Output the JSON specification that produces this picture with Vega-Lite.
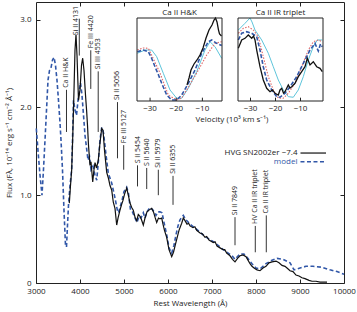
{
  "$schema": "https://vega.github.io/schema/vega-lite/v6.json",
  "width": 308,
  "height": 281,
  "autosize": {"type": "none"},
  "padding": {"left": 36, "top": 2, "right": 13, "bottom": 29},
  "config": {
    "font": "Open Sans",
    "view": {"stroke": "#222", "strokeWidth": 1},
    "axis": {
      "grid": false, "domain": false, "labelFlush": false,
      "labelFont": "Open Sans", "labelFontSize": 8, "labelColor": "#222",
      "tickColor": "#222", "tickWidth": 1,
      "titleFont": "Open Sans", "titleFontSize": 8, "titleFontWeight": "normal", "titleColor": "#222"
    },
    "text": {"font": "Open Sans", "fontSize": 8, "color": "#222"}
  },
  "datasets": {
    "model": [
      {"wl": 3007, "flux": 1.76}, {"wl": 3045, "flux": 1.51}, {"wl": 3091, "flux": 1.23}, {"wl": 3136, "flux": 1.00},
      {"wl": 3170, "flux": 1.29}, {"wl": 3205, "flux": 1.63}, {"wl": 3239, "flux": 1.97}, {"wl": 3273, "flux": 2.31},
      {"wl": 3307, "flux": 2.42}, {"wl": 3341, "flux": 2.45}, {"wl": 3375, "flux": 2.54}, {"wl": 3409, "flux": 2.57},
      {"wl": 3443, "flux": 2.48}, {"wl": 3477, "flux": 2.31}, {"wl": 3511, "flux": 2.08}, {"wl": 3545, "flux": 1.83},
      {"wl": 3568, "flux": 1.63}, {"wl": 3602, "flux": 1.29}, {"wl": 3636, "flux": 0.83}, {"wl": 3670, "flux": 0.43},
      {"wl": 3693, "flux": 0.41}, {"wl": 3716, "flux": 0.66}, {"wl": 3739, "flux": 0.89}, {"wl": 3773, "flux": 1.11},
      {"wl": 3811, "flux": 1.29}, {"wl": 3830, "flux": 1.63}, {"wl": 3852, "flux": 2.08}, {"wl": 3886, "flux": 1.97},
      {"wl": 3920, "flux": 1.91}, {"wl": 3955, "flux": 2.08}, {"wl": 4011, "flux": 2.28}, {"wl": 4045, "flux": 2.14},
      {"wl": 4080, "flux": 1.91}, {"wl": 4114, "flux": 1.68}, {"wl": 4148, "flux": 1.54}, {"wl": 4182, "flux": 1.40},
      {"wl": 4216, "flux": 1.44}, {"wl": 4250, "flux": 1.29}, {"wl": 4295, "flux": 1.33}, {"wl": 4341, "flux": 1.23},
      {"wl": 4380, "flux": 1.17}, {"wl": 4420, "flux": 1.40}, {"wl": 4455, "flux": 1.63}, {"wl": 4493, "flux": 1.77},
      {"wl": 4534, "flux": 1.71}, {"wl": 4591, "flux": 1.46}, {"wl": 4643, "flux": 1.25}, {"wl": 4720, "flux": 1.14},
      {"wl": 4795, "flux": 0.97}, {"wl": 4848, "flux": 0.83}, {"wl": 4875, "flux": 0.80}, {"wl": 4909, "flux": 0.86},
      {"wl": 4955, "flux": 0.94}, {"wl": 5000, "flux": 1.04}, {"wl": 5061, "flux": 1.09}, {"wl": 5102, "flux": 1.02},
      {"wl": 5148, "flux": 0.83}, {"wl": 5193, "flux": 0.81}, {"wl": 5250, "flux": 0.74}, {"wl": 5295, "flux": 0.69},
      {"wl": 5341, "flux": 0.76}, {"wl": 5386, "flux": 0.74}, {"wl": 5439, "flux": 0.80}, {"wl": 5477, "flux": 0.74},
      {"wl": 5523, "flux": 0.81}, {"wl": 5591, "flux": 0.86}, {"wl": 5659, "flux": 0.83}, {"wl": 5727, "flux": 0.77},
      {"wl": 5773, "flux": 0.81}, {"wl": 5818, "flux": 0.81}, {"wl": 5864, "flux": 0.80}, {"wl": 5909, "flux": 0.69},
      {"wl": 5970, "flux": 0.55}, {"wl": 6023, "flux": 0.40}, {"wl": 6084, "flux": 0.34}, {"wl": 6136, "flux": 0.43},
      {"wl": 6182, "flux": 0.55}, {"wl": 6227, "flux": 0.65}, {"wl": 6273, "flux": 0.72}, {"wl": 6348, "flux": 0.77},
      {"wl": 6409, "flux": 0.72}, {"wl": 6500, "flux": 0.67}, {"wl": 6652, "flux": 0.61}, {"wl": 6841, "flux": 0.53},
      {"wl": 7030, "flux": 0.47}, {"wl": 7182, "flux": 0.41}, {"wl": 7334, "flux": 0.35}, {"wl": 7455, "flux": 0.31},
      {"wl": 7523, "flux": 0.27}, {"wl": 7636, "flux": 0.33}, {"wl": 7727, "flux": 0.33}, {"wl": 7818, "flux": 0.28},
      {"wl": 7909, "flux": 0.22}, {"wl": 8000, "flux": 0.17}, {"wl": 8091, "flux": 0.16}, {"wl": 8227, "flux": 0.22},
      {"wl": 8364, "flux": 0.26}, {"wl": 8477, "flux": 0.28}, {"wl": 8614, "flux": 0.27}, {"wl": 8773, "flux": 0.23},
      {"wl": 8864, "flux": 0.15}, {"wl": 9000, "flux": 0.17}, {"wl": 9136, "flux": 0.19}, {"wl": 9295, "flux": 0.19},
      {"wl": 9500, "flux": 0.18}, {"wl": 9682, "flux": 0.15}, {"wl": 9841, "flux": 0.13}, {"wl": 10000, "flux": 0.10}
    ],
    "observed": [
      {"wl": 3757, "flux": 0.91}, {"wl": 3784, "flux": 1.11}, {"wl": 3811, "flux": 1.29}, {"wl": 3836, "flux": 1.68},
      {"wl": 3864, "flux": 2.20}, {"wl": 3886, "flux": 2.65}, {"wl": 3909, "flux": 2.83}, {"wl": 3932, "flux": 2.59},
      {"wl": 3966, "flux": 2.08}, {"wl": 4000, "flux": 2.20}, {"wl": 4034, "flux": 2.48}, {"wl": 4061, "flux": 2.56},
      {"wl": 4091, "flux": 2.42}, {"wl": 4125, "flux": 2.14}, {"wl": 4152, "flux": 1.95}, {"wl": 4170, "flux": 1.80},
      {"wl": 4193, "flux": 1.57}, {"wl": 4227, "flux": 1.34}, {"wl": 4250, "flux": 1.38}, {"wl": 4289, "flux": 1.15},
      {"wl": 4318, "flux": 1.29}, {"wl": 4341, "flux": 1.37}, {"wl": 4375, "flux": 1.31}, {"wl": 4416, "flux": 1.40},
      {"wl": 4455, "flux": 1.60}, {"wl": 4493, "flux": 1.76}, {"wl": 4523, "flux": 1.74}, {"wl": 4557, "flux": 1.51},
      {"wl": 4607, "flux": 1.26}, {"wl": 4648, "flux": 1.19}, {"wl": 4682, "flux": 1.11}, {"wl": 4720, "flux": 1.06},
      {"wl": 4757, "flux": 0.92}, {"wl": 4795, "flux": 0.85}, {"wl": 4834, "flux": 0.66}, {"wl": 4864, "flux": 0.74},
      {"wl": 4909, "flux": 0.83}, {"wl": 4943, "flux": 0.89}, {"wl": 4977, "flux": 0.94}, {"wl": 5011, "flux": 1.01},
      {"wl": 5061, "flux": 1.08}, {"wl": 5098, "flux": 1.00}, {"wl": 5136, "flux": 0.91}, {"wl": 5175, "flux": 0.86},
      {"wl": 5211, "flux": 0.83}, {"wl": 5250, "flux": 0.75}, {"wl": 5289, "flux": 0.71}, {"wl": 5325, "flux": 0.78},
      {"wl": 5364, "flux": 0.76}, {"wl": 5398, "flux": 0.72}, {"wl": 5439, "flux": 0.66}, {"wl": 5477, "flux": 0.74},
      {"wl": 5523, "flux": 0.81}, {"wl": 5568, "flux": 0.83}, {"wl": 5630, "flux": 0.85}, {"wl": 5670, "flux": 0.81},
      {"wl": 5705, "flux": 0.75}, {"wl": 5743, "flux": 0.69}, {"wl": 5784, "flux": 0.74}, {"wl": 5818, "flux": 0.73},
      {"wl": 5857, "flux": 0.74}, {"wl": 5886, "flux": 0.67}, {"wl": 5920, "flux": 0.60}, {"wl": 5970, "flux": 0.52},
      {"wl": 6023, "flux": 0.38}, {"wl": 6084, "flux": 0.30}, {"wl": 6125, "flux": 0.35}, {"wl": 6159, "flux": 0.42},
      {"wl": 6205, "flux": 0.51}, {"wl": 6250, "flux": 0.60}, {"wl": 6311, "flux": 0.68}, {"wl": 6348, "flux": 0.74},
      {"wl": 6386, "flux": 0.71}, {"wl": 6432, "flux": 0.67}, {"wl": 6470, "flux": 0.68}, {"wl": 6500, "flux": 0.65},
      {"wl": 6568, "flux": 0.63}, {"wl": 6610, "flux": 0.64}, {"wl": 6652, "flux": 0.60}, {"wl": 6727, "flux": 0.57},
      {"wl": 6780, "flux": 0.56}, {"wl": 6841, "flux": 0.52}, {"wl": 6880, "flux": 0.53}, {"wl": 6932, "flux": 0.49},
      {"wl": 7030, "flux": 0.46}, {"wl": 7070, "flux": 0.47}, {"wl": 7114, "flux": 0.42}, {"wl": 7182, "flux": 0.40},
      {"wl": 7250, "flux": 0.38}, {"wl": 7290, "flux": 0.38}, {"wl": 7334, "flux": 0.34}, {"wl": 7409, "flux": 0.31},
      {"wl": 7466, "flux": 0.27}, {"wl": 7523, "flux": 0.24}, {"wl": 7580, "flux": 0.28}, {"wl": 7636, "flux": 0.31},
      {"wl": 7705, "flux": 0.32}, {"wl": 7773, "flux": 0.30}, {"wl": 7818, "flux": 0.26}, {"wl": 7864, "flux": 0.22},
      {"wl": 7909, "flux": 0.19}, {"wl": 7955, "flux": 0.17}, {"wl": 8023, "flux": 0.15}, {"wl": 8091, "flux": 0.14},
      {"wl": 8159, "flux": 0.17}, {"wl": 8227, "flux": 0.19}, {"wl": 8295, "flux": 0.23}, {"wl": 8364, "flux": 0.24},
      {"wl": 8455, "flux": 0.25}, {"wl": 8523, "flux": 0.23}, {"wl": 8591, "flux": 0.20}, {"wl": 8659, "flux": 0.19},
      {"wl": 8705, "flux": 0.17}, {"wl": 8773, "flux": 0.14}, {"wl": 8841, "flux": 0.13}, {"wl": 8909, "flux": 0.09},
      {"wl": 8977, "flux": 0.08}, {"wl": 9045, "flux": 0.06}, {"wl": 9114, "flux": 0.05}, {"wl": 9205, "flux": 0.03},
      {"wl": 9273, "flux": 0.02}, {"wl": 9364, "flux": 0.02}, {"wl": 9455, "flux": 0.01}, {"wl": 9545, "flux": 0.01},
      {"wl": 9614, "flux": 0.01}
    ],
    "lines": [
      {"label": "Ca II H&K", "wl": 3693, "lo": 1.72, "hi": 2.20, "tw": 3693, "ty": 2.20},
      {"label": "Si II 4131", "wl": 3984, "lo": 2.59, "hi": 3.01, "tw": 3909, "ty": 2.80},
      {"label": "Fe III 4420", "wl": 4245, "lo": 2.21, "hi": 2.65, "tw": 4245, "ty": 2.65},
      {"label": "Si III 4553", "wl": 4414, "lo": 1.72, "hi": 2.41, "tw": 4414, "ty": 2.41},
      {"label": "Si II 5056", "wl": 4852, "lo": 1.42, "hi": 2.06, "tw": 4852, "ty": 2.06},
      {"label": "Fe III 5127", "wl": 4993, "lo": 1.29, "hi": 1.57, "tw": 4993, "ty": 1.57},
      {"label": "S II 5454", "wl": 5307, "lo": 1.10, "hi": 1.34, "tw": 5307, "ty": 1.34},
      {"label": "S II 5640", "wl": 5516, "lo": 1.07, "hi": 1.31, "tw": 5516, "ty": 1.31},
      {"label": "Si II 5979", "wl": 5780, "lo": 1.00, "hi": 1.29, "tw": 5780, "ty": 1.29},
      {"label": "Si II 6355", "wl": 6114, "lo": 0.89, "hi": 1.22, "tw": 6114, "ty": 1.22},
      {"label": "Si II 7849", "wl": 7523, "lo": 0.43, "hi": 0.75, "tw": 7523, "ty": 0.75},
      {"label": "HV Ca II IR triplet", "wl": 7984, "lo": 0.35, "hi": 0.65, "tw": 7984, "ty": 0.65},
      {"label": "Ca II IR triplet", "wl": 8234, "lo": 0.35, "hi": 0.77, "tw": 8234, "ty": 0.77}
    ],
    "hk": [
      {"s": "obs", "v": -15.88, "f": 0.193}, {"s": "obs", "v": -15.11, "f": 0.277}, {"s": "obs", "v": -14.35, "f": 0.373},
      {"s": "obs", "v": -13.2, "f": 0.446}, {"s": "obs", "v": -12.06, "f": 0.494}, {"s": "obs", "v": -10.91, "f": 0.554},
      {"s": "obs", "v": -9.76, "f": 0.639}, {"s": "obs", "v": -8.61, "f": 0.759}, {"s": "obs", "v": -7.47, "f": 0.855},
      {"s": "obs", "v": -6.32, "f": 0.916}, {"s": "obs", "v": -5.55, "f": 0.976}, {"s": "obs", "v": -4.98, "f": 1.0},
      {"s": "obs", "v": -4.41, "f": 0.952}, {"s": "obs", "v": -3.83, "f": 0.855}, {"s": "obs", "v": -3.45, "f": 0.807},
      {"s": "obs", "v": -2.69, "f": 0.783},
      {"s": "model", "v": -34.89, "f": 0.594}, {"s": "model", "v": -32.59, "f": 0.614}, {"s": "model", "v": -30.68, "f": 0.594},
      {"s": "model", "v": -29.45, "f": 0.518}, {"s": "model", "v": -28.12, "f": 0.413}, {"s": "model", "v": -26.78, "f": 0.313},
      {"s": "model", "v": -25.55, "f": 0.213}, {"s": "model", "v": -23.64, "f": 0.072}, {"s": "model", "v": -21.73, "f": 0.012},
      {"s": "model", "v": -19.82, "f": 0.012}, {"s": "model", "v": -17.91, "f": 0.072}, {"s": "model", "v": -15.38, "f": 0.213},
      {"s": "model", "v": -12.82, "f": 0.373}, {"s": "model", "v": -10.26, "f": 0.575}, {"s": "model", "v": -7.73, "f": 0.714},
      {"s": "model", "v": -6.43, "f": 0.735}, {"s": "model", "v": -4.52, "f": 0.695}, {"s": "model", "v": -2.61, "f": 0.669},
      {"s": "red", "v": -34.89, "f": 0.614}, {"s": "red", "v": -32.71, "f": 0.639}, {"s": "red", "v": -30.68, "f": 0.635},
      {"s": "red", "v": -28.88, "f": 0.518}, {"s": "red", "v": -26.2, "f": 0.337}, {"s": "red", "v": -23.03, "f": 0.072},
      {"s": "red", "v": -19.82, "f": 0.012}, {"s": "red", "v": -17.91, "f": 0.036}, {"s": "red", "v": -15.99, "f": 0.133},
      {"s": "red", "v": -12.17, "f": 0.337}, {"s": "red", "v": -8.35, "f": 0.554}, {"s": "red", "v": -5.17, "f": 0.695},
      {"s": "red", "v": -2.61, "f": 0.714},
      {"s": "cyan", "v": -34.89, "f": 0.575}, {"s": "cyan", "v": -31.94, "f": 0.614}, {"s": "cyan", "v": -29.38, "f": 0.614},
      {"s": "cyan", "v": -27.47, "f": 0.534}, {"s": "cyan", "v": -24.94, "f": 0.334}, {"s": "cyan", "v": -22.38, "f": 0.133},
      {"s": "cyan", "v": -19.82, "f": 0.033}, {"s": "cyan", "v": -17.91, "f": 0.033}, {"s": "cyan", "v": -15.38, "f": 0.153},
      {"s": "cyan", "v": -12.17, "f": 0.353}, {"s": "cyan", "v": -9.0, "f": 0.614}, {"s": "cyan", "v": -7.08, "f": 0.714},
      {"s": "cyan", "v": -5.17, "f": 0.654}, {"s": "cyan", "v": -2.61, "f": 0.514}
    ],
    "ir": [
      {"s": "obs", "v": -34.88, "f": 0.635}, {"s": "obs", "v": -33.52, "f": 0.735}, {"s": "obs", "v": -32.2, "f": 0.755},
      {"s": "obs", "v": -30.88, "f": 0.795}, {"s": "obs", "v": -29.52, "f": 0.755}, {"s": "obs", "v": -28.8, "f": 0.783},
      {"s": "obs", "v": -28.2, "f": 0.735}, {"s": "obs", "v": -27.52, "f": 0.614}, {"s": "obs", "v": -26.2, "f": 0.413},
      {"s": "obs", "v": -24.88, "f": 0.253}, {"s": "obs", "v": -23.52, "f": 0.153}, {"s": "obs", "v": -22.2, "f": 0.112},
      {"s": "obs", "v": -21.2, "f": 0.133}, {"s": "obs", "v": -20.2, "f": 0.093}, {"s": "obs", "v": -18.88, "f": 0.072},
      {"s": "obs", "v": -18.2, "f": 0.133}, {"s": "obs", "v": -17.52, "f": 0.153}, {"s": "obs", "v": -16.8, "f": 0.096},
      {"s": "obs", "v": -16.2, "f": 0.112}, {"s": "obs", "v": -14.88, "f": 0.193}, {"s": "obs", "v": -14.2, "f": 0.157},
      {"s": "obs", "v": -13.52, "f": 0.172}, {"s": "obs", "v": -12.2, "f": 0.213}, {"s": "obs", "v": -10.88, "f": 0.293},
      {"s": "obs", "v": -9.52, "f": 0.353}, {"s": "obs", "v": -8.2, "f": 0.413}, {"s": "obs", "v": -7.28, "f": 0.514},
      {"s": "obs", "v": -6.2, "f": 0.434}, {"s": "obs", "v": -4.88, "f": 0.473}, {"s": "obs", "v": -3.52, "f": 0.413},
      {"s": "obs", "v": -2.2, "f": 0.394}, {"s": "obs", "v": -1.28, "f": 0.353},
      {"s": "model", "v": -34.88, "f": 0.735}, {"s": "model", "v": -33.52, "f": 0.816}, {"s": "model", "v": -31.52, "f": 0.835},
      {"s": "model", "v": -29.52, "f": 0.816}, {"s": "model", "v": -27.52, "f": 0.775}, {"s": "model", "v": -26.2, "f": 0.614},
      {"s": "model", "v": -24.88, "f": 0.413}, {"s": "model", "v": -23.52, "f": 0.253}, {"s": "model", "v": -21.52, "f": 0.133},
      {"s": "model", "v": -19.52, "f": 0.052}, {"s": "model", "v": -18.2, "f": 0.045}, {"s": "model", "v": -16.2, "f": 0.093},
      {"s": "model", "v": -14.2, "f": 0.172}, {"s": "model", "v": -11.52, "f": 0.293}, {"s": "model", "v": -8.88, "f": 0.454},
      {"s": "model", "v": -6.2, "f": 0.614}, {"s": "model", "v": -4.2, "f": 0.695}, {"s": "model", "v": -2.88, "f": 0.602},
      {"s": "model", "v": -2.0, "f": 0.687}, {"s": "model", "v": -1.28, "f": 0.654},
      {"s": "red", "v": -34.88, "f": 0.816}, {"s": "red", "v": -32.88, "f": 0.876}, {"s": "red", "v": -30.88, "f": 0.895},
      {"s": "red", "v": -28.88, "f": 0.855}, {"s": "red", "v": -26.88, "f": 0.775}, {"s": "red", "v": -24.88, "f": 0.534},
      {"s": "red", "v": -22.88, "f": 0.293}, {"s": "red", "v": -20.88, "f": 0.133}, {"s": "red", "v": -18.88, "f": 0.033},
      {"s": "red", "v": -16.88, "f": 0.033}, {"s": "red", "v": -14.88, "f": 0.093}, {"s": "red", "v": -12.2, "f": 0.213},
      {"s": "red", "v": -9.52, "f": 0.413}, {"s": "red", "v": -6.88, "f": 0.614}, {"s": "red", "v": -4.88, "f": 0.714},
      {"s": "red", "v": -2.88, "f": 0.735}, {"s": "red", "v": -1.28, "f": 0.714},
      {"s": "cyan", "v": -34.88, "f": 0.855}, {"s": "cyan", "v": -32.2, "f": 0.936}, {"s": "cyan", "v": -30.2, "f": 1.0},
      {"s": "cyan", "v": -29.4, "f": 0.952}, {"s": "cyan", "v": -28.2, "f": 0.855}, {"s": "cyan", "v": -25.52, "f": 0.735},
      {"s": "cyan", "v": -22.88, "f": 0.575}, {"s": "cyan", "v": -20.88, "f": 0.413}, {"s": "cyan", "v": -18.88, "f": 0.253},
      {"s": "cyan", "v": -16.88, "f": 0.133}, {"s": "cyan", "v": -14.88, "f": 0.052}, {"s": "cyan", "v": -12.88, "f": 0.045},
      {"s": "cyan", "v": -10.88, "f": 0.133}, {"s": "cyan", "v": -8.88, "f": 0.293}, {"s": "cyan", "v": -6.88, "f": 0.494},
      {"s": "cyan", "v": -4.88, "f": 0.654}, {"s": "cyan", "v": -3.28, "f": 0.735}, {"s": "cyan", "v": -1.28, "f": 0.735}
    ],
    "vticks": [{"v": -30}, {"v": -20}, {"v": -10}]
  },
  "layer": [
    {
      "layer": [
        {
          "data": {"name": "model"},
          "mark": {"type": "line", "color": "#3157a8", "strokeWidth": 1.6, "strokeDash": [4, 2.5]},
          "encoding": {
            "x": {"field": "wl", "type": "quantitative", "scale": {"domain": [3000, 10000], "nice": false, "zero": false},
                  "axis": {"orient": "bottom", "values": [3000, 4000, 5000, 6000, 7000, 8000, 9000, 10000], "format": "d",
                           "tickSize": -4, "labelPadding": 8, "title": "Rest Wavelength (Å)", "titlePadding": 4}},
            "y": {"field": "flux", "type": "quantitative", "scale": {"domain": [0, 3.2], "nice": false},
                  "axis": {"orient": "left", "values": [0, 1, 2, 3], "tickSize": -4, "labelPadding": 9,
                           "labelExpr": "datum.value === 0 ? '0' : format(datum.value, '.1f')",
                           "title": "Flux (Fλ, 10⁻¹⁴ erg s⁻¹ cm⁻² Å⁻¹)", "titlePadding": 6}}
          }
        },
        {
          "data": {"name": "observed"},
          "mark": {"type": "line", "color": "#111", "strokeWidth": 1.2},
          "encoding": {
            "x": {"field": "wl", "type": "quantitative",
                  "axis": {"orient": "top", "values": [4000, 5000, 6000, 7000, 8000, 9000], "tickSize": -4, "labels": false, "title": null}},
            "y": {"field": "flux", "type": "quantitative",
                  "axis": {"orient": "right", "values": [1, 2, 3], "tickSize": -4, "labels": false, "title": null}}
          }
        },
        {
          "data": {"name": "lines"},
          "mark": {"type": "rule", "color": "#333", "strokeWidth": 1},
          "encoding": {
            "x": {"field": "wl", "type": "quantitative", "axis": null},
            "y": {"field": "lo", "type": "quantitative", "axis": null},
            "y2": {"field": "hi"}
          }
        },
        {
          "data": {"name": "lines"},
          "mark": {"type": "text", "angle": 270, "align": "left", "baseline": "middle", "dx": 2, "fontSize": 7},
          "encoding": {
            "x": {"field": "tw", "type": "quantitative", "axis": null},
            "y": {"field": "ty", "type": "quantitative", "axis": null},
            "text": {"field": "label"}
          }
        },
        {
          "data": {"values": [{"name": "HVG SN2002er −7.4", "x1": 9011, "x2": 9591, "y": 1.48}]},
          "mark": {"type": "rule", "color": "#111", "strokeWidth": 1.2},
          "encoding": {
            "x": {"field": "x1", "type": "quantitative", "axis": null},
            "x2": {"field": "x2"},
            "y": {"field": "y", "type": "quantitative", "axis": null}
          }
        },
        {
          "data": {"values": [{"name": "model", "x1": 9011, "x2": 9591, "y": 1.38}]},
          "mark": {"type": "rule", "color": "#3157a8", "strokeWidth": 1.6, "strokeDash": [4, 2.5]},
          "encoding": {
            "x": {"field": "x1", "type": "quantitative", "axis": null},
            "x2": {"field": "x2"},
            "y": {"field": "y", "type": "quantitative", "axis": null}
          }
        },
        {
          "data": {"values": [
            {"name": "HVG SN2002er −7.4", "x": 8943, "y": 1.48, "c": "obs"},
            {"name": "model", "x": 8943, "y": 1.38, "c": "model"}
          ]},
          "mark": {"type": "text", "align": "right", "baseline": "middle"},
          "encoding": {
            "x": {"field": "x", "type": "quantitative", "axis": null},
            "y": {"field": "y", "type": "quantitative", "axis": null},
            "text": {"field": "name"},
            "color": {"field": "c", "type": "nominal", "scale": {"domain": ["obs", "model"], "range": ["#222", "#3157a8"]}, "legend": null}
          }
        }
      ],
      "resolve": {"axis": {"x": "independent", "y": "independent"}}
    },
    {
      "layer": [
        {
          "data": {"name": "hk"},
          "transform": [{"filter": "datum.s === 'cyan'"}],
          "mark": {"type": "line", "color": "#5ec5db", "strokeWidth": 1},
          "encoding": {
            "x": {"field": "v", "type": "quantitative", "scale": {"domain": [-35, -2.5], "range": [101, 186], "nice": false, "zero": false}, "axis": null},
            "y": {"field": "f", "type": "quantitative", "scale": {"domain": [0, 1], "range": [99, 16], "nice": false, "zero": false}, "axis": null}
          }
        },
        {
          "data": {"name": "hk"},
          "transform": [{"filter": "datum.s === 'red'"}],
          "mark": {"type": "line", "color": "#e06868", "strokeWidth": 1.1, "strokeDash": [1.5, 1.5]},
          "encoding": {
            "x": {"field": "v", "type": "quantitative", "axis": null},
            "y": {"field": "f", "type": "quantitative", "axis": null}
          }
        },
        {
          "data": {"name": "hk"},
          "transform": [{"filter": "datum.s === 'model'"}],
          "mark": {"type": "line", "color": "#3157a8", "strokeWidth": 1.6, "strokeDash": [4, 2]},
          "encoding": {
            "x": {"field": "v", "type": "quantitative", "axis": null},
            "y": {"field": "f", "type": "quantitative", "axis": null}
          }
        },
        {
          "data": {"name": "hk"},
          "transform": [{"filter": "datum.s === 'obs'"}],
          "mark": {"type": "line", "color": "#111", "strokeWidth": 1.3},
          "encoding": {
            "x": {"field": "v", "type": "quantitative", "axis": null},
            "y": {"field": "f", "type": "quantitative", "axis": null}
          }
        },
        {
          "data": {"values": [{"x1": -35, "x2": -2.5, "y1": 0, "y2": 1}]},
          "mark": {"type": "rect", "fill": "transparent", "stroke": "#222", "strokeWidth": 1},
          "encoding": {
            "x": {"field": "x1", "type": "quantitative", "axis": null},
            "x2": {"field": "x2"},
            "y": {"field": "y1", "type": "quantitative", "axis": null},
            "y2": {"field": "y2"}
          }
        },
        {
          "data": {"name": "vticks"},
          "mark": {"type": "rule", "color": "#222", "strokeWidth": 1},
          "encoding": {
            "x": {"field": "v", "type": "quantitative", "axis": null},
            "y": {"datum": 0, "type": "quantitative", "axis": null},
            "y2": {"datum": 0.04}
          }
        },
        {
          "data": {"name": "vticks"},
          "mark": {"type": "text", "baseline": "top", "dy": 4},
          "encoding": {
            "x": {"field": "v", "type": "quantitative", "axis": null},
            "y": {"datum": 0, "type": "quantitative", "axis": null},
            "text": {"field": "v", "type": "quantitative", "format": "d"}
          }
        },
        {
          "data": {"values": [{"t": "Ca II H&K", "x": -18.75, "y": 1}]},
          "mark": {"type": "text", "baseline": "bottom", "dy": -1},
          "encoding": {
            "x": {"field": "x", "type": "quantitative", "axis": null},
            "y": {"field": "y", "type": "quantitative", "axis": null},
            "text": {"field": "t"}
          }
        }
      ]
    },
    {
      "layer": [
        {
          "data": {"name": "ir"},
          "transform": [{"filter": "datum.s === 'cyan'"}],
          "mark": {"type": "line", "color": "#5ec5db", "strokeWidth": 1},
          "encoding": {
            "x": {"field": "v", "type": "quantitative", "scale": {"domain": [-35, -1], "range": [202, 287], "nice": false, "zero": false}, "axis": null},
            "y": {"field": "f", "type": "quantitative", "scale": {"domain": [0, 1], "range": [99, 16], "nice": false, "zero": false}, "axis": null}
          }
        },
        {
          "data": {"name": "ir"},
          "transform": [{"filter": "datum.s === 'red'"}],
          "mark": {"type": "line", "color": "#e06868", "strokeWidth": 1.1, "strokeDash": [1.5, 1.5]},
          "encoding": {
            "x": {"field": "v", "type": "quantitative", "axis": null},
            "y": {"field": "f", "type": "quantitative", "axis": null}
          }
        },
        {
          "data": {"name": "ir"},
          "transform": [{"filter": "datum.s === 'model'"}],
          "mark": {"type": "line", "color": "#3157a8", "strokeWidth": 1.6, "strokeDash": [4, 2]},
          "encoding": {
            "x": {"field": "v", "type": "quantitative", "axis": null},
            "y": {"field": "f", "type": "quantitative", "axis": null}
          }
        },
        {
          "data": {"name": "ir"},
          "transform": [{"filter": "datum.s === 'obs'"}],
          "mark": {"type": "line", "color": "#111", "strokeWidth": 1.3},
          "encoding": {
            "x": {"field": "v", "type": "quantitative", "axis": null},
            "y": {"field": "f", "type": "quantitative", "axis": null}
          }
        },
        {
          "data": {"values": [{"x1": -35, "x2": -1, "y1": 0, "y2": 1}]},
          "mark": {"type": "rect", "fill": "transparent", "stroke": "#222", "strokeWidth": 1},
          "encoding": {
            "x": {"field": "x1", "type": "quantitative", "axis": null},
            "x2": {"field": "x2"},
            "y": {"field": "y1", "type": "quantitative", "axis": null},
            "y2": {"field": "y2"}
          }
        },
        {
          "data": {"name": "vticks"},
          "mark": {"type": "rule", "color": "#222", "strokeWidth": 1},
          "encoding": {
            "x": {"field": "v", "type": "quantitative", "axis": null},
            "y": {"datum": 0, "type": "quantitative", "axis": null},
            "y2": {"datum": 0.04}
          }
        },
        {
          "data": {"name": "vticks"},
          "mark": {"type": "text", "baseline": "top", "dy": 4},
          "encoding": {
            "x": {"field": "v", "type": "quantitative", "axis": null},
            "y": {"datum": 0, "type": "quantitative", "axis": null},
            "text": {"field": "v", "type": "quantitative", "format": "d"}
          }
        },
        {
          "data": {"values": [{"t": "Ca II IR triplet", "x": -18, "y": 1}]},
          "mark": {"type": "text", "baseline": "bottom", "dy": -1},
          "encoding": {
            "x": {"field": "x", "type": "quantitative", "axis": null},
            "y": {"field": "y", "type": "quantitative", "axis": null},
            "text": {"field": "t"}
          }
        },
        {
          "data": {"values": [{"t": "Velocity (10³ km s⁻¹)", "x": -37.4, "y": -0.25}]},
          "mark": {"type": "text", "baseline": "alphabetic"},
          "encoding": {
            "x": {"field": "x", "type": "quantitative", "axis": null},
            "y": {"field": "y", "type": "quantitative", "axis": null},
            "text": {"field": "t"}
          }
        }
      ]
    }
  ],
  "resolve": {
    "scale": {"x": "independent", "y": "independent", "color": "independent"},
    "axis": {"x": "independent", "y": "independent"}
  }
}
